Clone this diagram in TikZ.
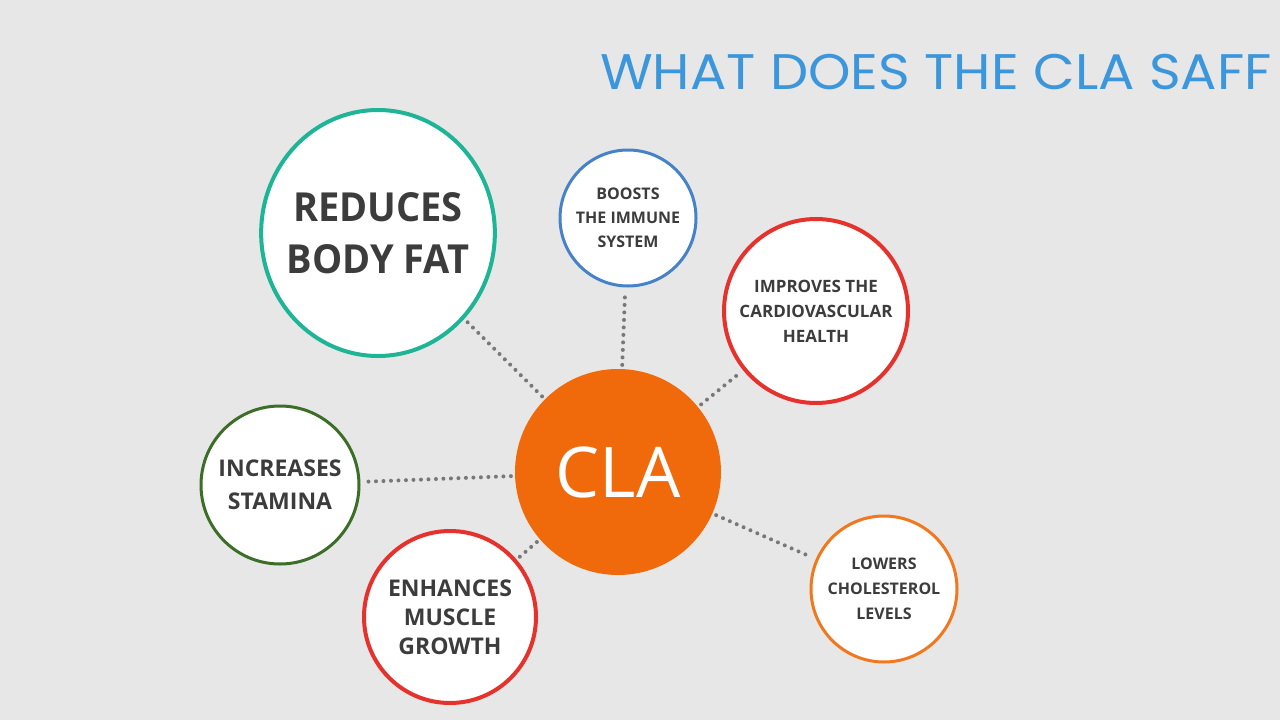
\documentclass[tikz,border=0pt]{standalone}
\usepackage{fontspec}
\setmainfont{Open Sans}
\newfontfamily\titlefont{Poppins}
\definecolor{bg}{RGB}{231,231,231}
\definecolor{teal}{RGB}{30,180,150}
\definecolor{blu}{RGB}{70,130,200}
\definecolor{redc}{RGB}{230,50,45}
\definecolor{grn}{RGB}{60,110,40}
\definecolor{orc}{RGB}{240,120,30}
\definecolor{clafill}{RGB}{240,105,10}
\definecolor{txt}{RGB}{60,60,60}
\definecolor{dotc}{RGB}{120,120,120}
\definecolor{titc}{RGB}{60,150,220}
\begin{document}
\begin{tikzpicture}[x=1pt,y=-1pt,
  bub/.style={circle,draw,line width=4pt,fill=white,text=txt,font=\bfseries,align=center,inner sep=0pt},
  con/.style={dotc,line width=4pt,dash pattern=on 0pt off 7.5pt,line cap=round,shorten <=4pt,shorten >=4pt}]
\fill[bg] (0,0) rectangle (1280,720);
\useasboundingbox (0,0) rectangle (1280,720);
\node[anchor=west,text=titc,inner sep=0pt,font=\titlefont\fontsize{50}{54}\selectfont,xscale=1.08] (title) at (600,72) {WHAT DOES THE CLA SAFF};
\node[circle,fill=clafill,minimum size=206pt,text=white,font=\fontsize{70}{76}\selectfont] (cla) at (618,472) {CLA};
\node[bub,draw=teal,minimum size=246pt,font=\bfseries\fontsize{40}{52}\selectfont,xscale=0.95] (fat) at (378,233) {REDUCES\\BODY FAT};
\node[bub,draw=blu,line width=3pt,minimum size=136pt,font=\bfseries\fontsize{16}{24}\selectfont] (imm) at (628,218) {BOOSTS\\THE IMMUNE\\SYSTEM};
\node[bub,draw=redc,minimum size=184pt,font=\bfseries\fontsize{17}{25}\selectfont] (card) at (816,311) {IMPROVES THE\\CARDIOVASCULAR\\HEALTH};
\node[bub,draw=grn,line width=3pt,minimum size=158pt,font=\bfseries\fontsize{23}{33}\selectfont] (stam) at (280,485) {INCREASES\\STAMINA};
\node[bub,draw=redc,minimum size=172pt,font=\bfseries\fontsize{23}{29}\selectfont] (mus) at (450,617) {ENHANCES\\MUSCLE\\GROWTH};
\node[bub,draw=orc,line width=3pt,minimum size=146pt,font=\bfseries\fontsize{16}{25}\selectfont] (chol) at (884,589) {LOWERS\\CHOLESTEROL\\LEVELS};
\draw[con] (cla) -- (fat);
\draw[con] (cla) -- (imm);
\draw[con] (cla) -- (card);
\draw[con] (cla) -- (stam);
\draw[con] (cla) -- (mus);
\draw[con] (cla) -- (chol);
\end{tikzpicture}
\end{document}
